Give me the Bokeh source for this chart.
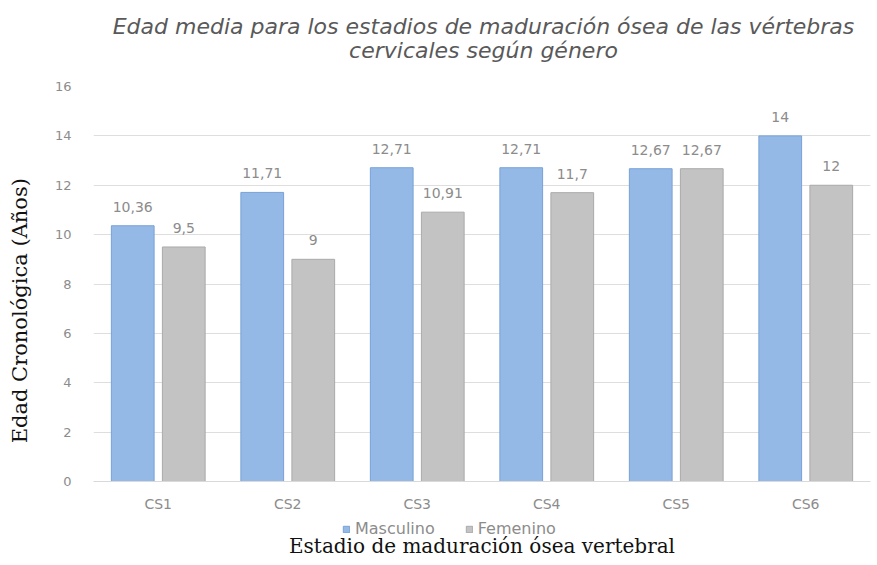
from bokeh.plotting import figure
from bokeh.layouts import column
from bokeh.models import (ColumnDataSource, FactorRange, Range1d, SingleIntervalTicker,
                          Legend, LegendItem, Div, Label)
from bokeh.transform import dodge
from bokeh.core.properties import value
from bokeh.embed import file_html
from bokeh.resources import INLINE

categories = ["CS1", "CS2", "CS3", "CS4", "CS5", "CS6"]
masculino = [10.36, 11.71, 12.71, 12.71, 12.67, 14]
femenino = [9.5, 9, 10.91, 11.7, 12.67, 12]
series_names = ["Masculino", "Femenino"]
y_ticks_interval = 2
title_lines = ["Edad media para los estadios de maduración ósea de las vértebras",
               "cervicales según género"]
x_title = "Estadio de maduración ósea vertebral"
y_title = "Edad Cronológica (Años)"

BLUE, BLUE_LINE = "#95b9e7", "#78a2d8"
GRAY, GRAY_LINE = "#c3c3c3", "#aaaaaa"
TXT = "#8c8c8c"
SANS = "DejaVu Sans"
SERIF = "DejaVu Serif"

def fmt(v):
    return f"{v:g}".replace(".", ",")

src = ColumnDataSource(dict(
    cat=categories,
    m=masculino,
    f=femenino,
    ml=[fmt(v) for v in masculino],
    fl=[fmt(v) for v in femenino],
))

title_div = Div(text="<br>".join(title_lines), width=877, height=64, margin=(0, 0, 0, 0),
                styles={"font-family": "'DejaVu Sans'", "font-style": "italic",
                        "font-size": "22px", "color": "#595959", "text-align": "center",
                        "line-height": "24px", "white-space": "nowrap",
                        "padding-top": "15px", "padding-left": "90px",
                        "box-sizing": "border-box", "width": "877px", "height": "64px",
                        "background": "white"})

p = figure(width=877, height=454, x_range=FactorRange(*categories), y_range=Range1d(0, 16),
           output_backend="svg", toolbar_location=None, margin=(0, 0, 0, 0),
           min_border_left=93, min_border_right=7, min_border_top=22, min_border_bottom=37)
p.outline_line_color = None
p.background_fill_color = "white"
p.border_fill_color = "white"

off = 0.197
w = 0.33
p.vbar(x=dodge("cat", -off, range=p.x_range), top="m", width=w, source=src,
       fill_color=BLUE, line_color=BLUE_LINE, line_width=1)
p.vbar(x=dodge("cat", off, range=p.x_range), top="f", width=w, source=src,
       fill_color=GRAY, line_color=GRAY_LINE, line_width=1)

lbl_style = dict(text_font=value(SANS), text_font_size="14px", text_color=TXT,
                 text_align="center", text_baseline="bottom", y_offset=-14)
p.text(x=dodge("cat", -off, range=p.x_range), y="m", text="ml", source=src, **lbl_style)
p.text(x=dodge("cat", off, range=p.x_range), y="f", text="fl", source=src, **lbl_style)

# axes
p.yaxis.ticker = SingleIntervalTicker(interval=y_ticks_interval)
p.yaxis.axis_line_color = None
p.yaxis.major_tick_line_color = None
p.yaxis.minor_tick_line_color = None
p.yaxis.major_label_text_font = SANS
p.yaxis.major_label_text_font_size = "13px"
p.yaxis.major_label_text_color = TXT
p.yaxis.major_label_standoff = 16
p.yaxis.axis_label = y_title + "\u00a0" * 8
p.yaxis.axis_label_text_font = SERIF
p.yaxis.axis_label_text_font_style = "normal"
p.yaxis.axis_label_text_font_size = "21px"
p.yaxis.axis_label_text_color = "#111111"
p.yaxis.axis_label_standoff = 20

p.xaxis.axis_line_color = "#d9d9d9"
p.xaxis.major_tick_line_color = None
p.xaxis.minor_tick_line_color = None
p.xaxis.major_label_text_font = SANS
p.xaxis.major_label_text_font_size = "14px"
p.xaxis.major_label_text_color = TXT
p.xaxis.major_label_standoff = 8
p.xgrid.grid_line_color = None
p.ygrid.grid_line_color = "#dedede"

# legend + x-axis title strip beneath the chart
q = figure(width=877, height=47, x_range=Range1d(0, 1), y_range=Range1d(0, 1),
           output_backend="svg", toolbar_location=None, margin=(0, 0, 0, 0),
           min_border_left=93, min_border_right=7, min_border_top=0, min_border_bottom=0)
q.axis.visible = False
q.grid.visible = False
q.outline_line_color = None
q.background_fill_color = "white"
q.border_fill_color = "white"
# swatch sources for the legend keys (kept outside the visible range)
swatch = ColumnDataSource(dict(x=[-1.0], top=[-1.0]))
lm = q.vbar(x="x", top="top", width=0.1, source=swatch, fill_color=BLUE, line_color=BLUE_LINE)
lf = q.vbar(x="x", top="top", width=0.1, source=swatch, fill_color=GRAY, line_color=GRAY_LINE)
legend = Legend(items=[LegendItem(label=series_names[0], renderers=[lm]),
                       LegendItem(label=series_names[1], renderers=[lf])],
                orientation="horizontal", location=(249, 27),
                border_line_color=None, background_fill_alpha=0,
                label_text_font=SANS, label_text_font_size="16px",
                label_text_color=TXT, glyph_width=8, glyph_height=8,
                label_standoff=5, spacing=30, padding=0, margin=0)
q.add_layout(legend)
q.add_layout(Label(x=0.5, y=0.425, text=x_title, text_align="center", text_baseline="middle",
                   text_font=SERIF, text_font_size="20px", text_color="#111111"))

layout = column(title_div, p, q, spacing=0, margin=(0, 0, 0, 0))
open("out.html", "w").write(file_html(layout, INLINE))
